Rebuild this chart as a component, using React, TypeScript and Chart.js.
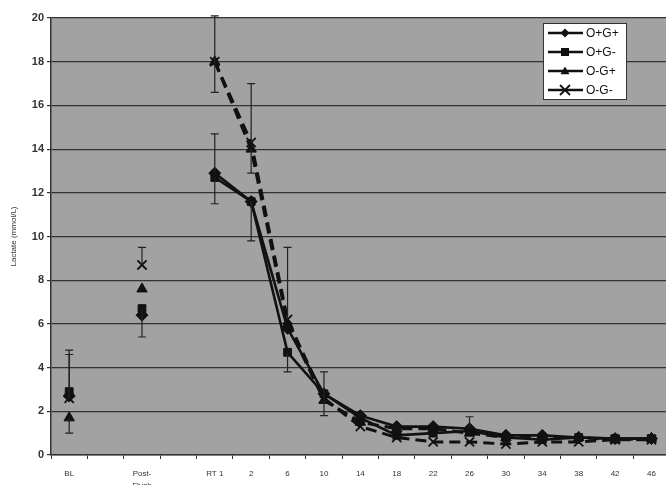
import React, { useEffect, useRef } from "react";
import { Chart, registerables } from "chart.js";
Chart.register(...registerables);

const categories: (string | string[])[] = ["BL", "", ["Post-", "Flush"], "", "RT 1", "2", "6", "10", "14", "18", "22", "26", "30", "34", "38", "42", "46"];
const seriesNames = ["O+G+", "O+G-", "O-G+", "O-G-"];

const oPgP = [2.7, null, 6.4, null, 12.9, 11.6, 5.8, 2.8, 1.8, 1.3, 1.3, 1.2, 0.9, 0.9, 0.8, 0.75, 0.75];
const oPgM = [2.9, null, 6.7, null, 12.7, 11.6, 4.7, 2.8, 1.7, 0.9, 1.0, 1.1, 0.8, 0.7, 0.8, 0.75, 0.75];
const oMgP = [1.7, null, 7.6, null, 18.0, 14.0, 6.0, 2.5, 1.5, 1.2, 1.2, 1.0, 0.8, 0.8, 0.8, 0.7, 0.75];
const oMgM = [2.6, null, 8.7, null, 18.0, 14.3, 6.2, 2.6, 1.3, 0.8, 0.6, 0.6, 0.5, 0.6, 0.6, 0.7, 0.7];

// one-sided error bars (Excel style)
const oPgPPlus = [null, null, null, null, 1.8, null, null, 1.0, null, null, null, 0.55, null, null, null, null, null];
const oPgPMinus = [null, null, null, null, null, 1.8, null, null, null, null, null, null, null, null, null, null, null];
const oPgMPlus = [1.9, null, null, null, null, null, null, null, null, null, null, null, null, null, null, null, null];
const oPgMMinus = [null, null, 1.3, null, 1.2, null, 0.9, 1.0, null, null, null, null, null, null, null, null, null];
const oMgPPlus = [null, null, null, null, null, null, null, null, null, null, null, null, null, null, null, null, null];
const oMgPMinus = [0.7, null, null, null, 1.4, 1.1, null, null, null, null, null, null, null, null, null, null, null];
const oMgMPlus = [2.0, null, 0.8, null, 2.1, 2.7, 3.3, null, null, null, null, null, null, null, null, null, null];
const oMgMMinus = [null, null, null, null, null, null, null, null, null, null, null, null, null, null, null, null, null];

const yTicks = { min: 0, max: 20, step: 2 };

const seriesData = [oPgP, oPgM, oMgP, oMgM];
const plusErr = [oPgPPlus, oPgMPlus, oMgPPlus, oMgMPlus];
const minusErr = [oPgPMinus, oPgMMinus, oMgPMinus, oMgMMinus];
const markers = ["rectRot", "rect", "triangle", "crossRot"];
const radii = [6, 5.5, 6, 6.5];
const dashes = [[], [], [11, 6], [11, 6]];

const FONT = "Arial, 'Liberation Sans', sans-serif";

export default function App() {
  const ref = useRef<HTMLCanvasElement>(null);
  useEffect(() => {
    const ctx = ref.current!.getContext("2d")!;
    const bgPlugin = {
      id: "bg",
      beforeDraw(chart: any) {
        const { ctx, chartArea: a } = chart;
        ctx.save();
        ctx.fillStyle = "#ffffff";
        ctx.fillRect(0, 0, chart.width, chart.height);
        ctx.fillStyle = "#a2a2a2";
        ctx.fillRect(a.left, a.top, a.right - a.left, a.bottom - a.top);
        ctx.restore();
      },
    };
    const errPlugin = {
      id: "err",
      afterDatasetsDraw(chart: any) {
        const { ctx } = chart;
        const ys = chart.scales.y;
        ctx.save();
        ctx.strokeStyle = "#222";
        ctx.lineWidth = 1.2;
        seriesData.forEach((d, i) => {
          const meta = chart.getDatasetMeta(i);
          d.forEach((v, j) => {
            if (v == null) return;
            const x = meta.data[j].x;
            const y0 = ys.getPixelForValue(v);
            const draw = (e: number | null, s: number) => {
              if (e == null) return;
              const y1 = ys.getPixelForValue(v + s * e);
              ctx.beginPath();
              ctx.moveTo(x, y0);
              ctx.lineTo(x, y1);
              ctx.moveTo(x - 4, y1);
              ctx.lineTo(x + 4, y1);
              ctx.stroke();
            };
            draw(plusErr[i][j], 1);
            draw(minusErr[i][j], -1);
          });
        });
        ctx.restore();
      },
    };
    const legendPlugin = {
      id: "customLegend",
      afterDraw(chart: any) {
        const { ctx } = chart;
        ctx.save();
        ctx.fillStyle = "#ffffff";
        ctx.fillRect(543, 23, 83, 76);
        ctx.strokeStyle = "#333";
        ctx.lineWidth = 1;
        ctx.strokeRect(543.5, 23.5, 83, 76);
        seriesNames.forEach((name, i) => {
          const y = 33 + i * 19;
          ctx.strokeStyle = "#111";
          ctx.lineWidth = 2.5;
          ctx.setLineDash([]);
          ctx.beginPath();
          ctx.moveTo(548, y);
          ctx.lineTo(583, y);
          ctx.stroke();
          ctx.fillStyle = "#111";
          ctx.font = "12px " + FONT;
          ctx.textBaseline = "middle";
          ctx.fillText(name, 586, y + 1);
          const m = markers[i];
          const r = radii[i] - 1.5;
          const cxp = 565;
          ctx.lineWidth = i === 3 ? 1.8 : 1;
          ctx.beginPath();
          if (m === "rectRot") {
            ctx.moveTo(cxp, y - r); ctx.lineTo(cxp + r, y); ctx.lineTo(cxp, y + r); ctx.lineTo(cxp - r, y); ctx.closePath(); ctx.fill();
          } else if (m === "rect") {
            ctx.rect(cxp - r, y - r, 2 * r, 2 * r); ctx.fill();
          } else if (m === "triangle") {
            ctx.moveTo(cxp, y - r); ctx.lineTo(cxp + r, y + r * 0.7); ctx.lineTo(cxp - r, y + r * 0.7); ctx.closePath(); ctx.fill();
          } else {
            ctx.moveTo(cxp - r, y - r); ctx.lineTo(cxp + r, y + r); ctx.moveTo(cxp + r, y - r); ctx.lineTo(cxp - r, y + r); ctx.stroke();
          }
        });
        ctx.restore();
      },
    };
    const chart = new Chart(ctx, {
      type: "line",
      data: {
        labels: categories as any,
        datasets: seriesData.map((d, i) => ({
          label: seriesNames[i],
          data: d as any,
          borderColor: "#111",
          backgroundColor: "#111",
          borderWidth: i >= 2 ? 3 : 2.6,
          borderDash: dashes[i],
          pointStyle: markers[i] as any,
          pointRadius: radii[i],
          pointBorderWidth: i === 3 ? 1.8 : 1,
          pointBorderColor: "#111",
          pointBackgroundColor: "#111",
          tension: 0,
          spanGaps: false,
          fill: false,
        })),
      },
      options: {
        responsive: false,
        animation: false,
        layout: { padding: { top: 18, right: 0, left: 0, bottom: 0 } },
        plugins: {
          legend: { display: false },
          tooltip: { enabled: false },
        },
        scales: {
          x: {
            offset: true,
            afterFit(s: any) { s.height = 30; },
            grid: { offset: true, drawOnChartArea: false, drawTicks: true, tickLength: 4, color: "#333", lineWidth: 1 },
            border: { display: true, color: "#333", width: 1.5 },
            ticks: {
              color: "#333",
              font: { family: FONT, size: 8, lineHeight: 1.6 },
              padding: 8,
              maxRotation: 0,
              autoSkip: false,
            },
          },
          y: {
            min: yTicks.min,
            max: yTicks.max,
            afterFit(s: any) { s.width = 51; },
            grid: { color: "#333", lineWidth: 1.2, drawTicks: true, tickLength: 4 },
            border: { display: true, color: "#333", width: 1.5 },
            ticks: {
              stepSize: yTicks.step,
              color: "#333",
              padding: 3,
              font: { family: FONT, size: 11, weight: "bold" },
            },
            title: {
              display: true,
              text: "Lactate (mmol/L)",
              color: "#333",
              padding: { top: 9, bottom: 0 },
              font: { family: FONT, size: 8 },
            },
          },
        },
      },
      plugins: [bgPlugin, errPlugin, legendPlugin],
    });
    return () => chart.destroy();
  }, []);
  return (
    <div style={{ position: "absolute", left: 0, top: 0, width: 666, height: 485, overflow: "hidden" }}>
      <canvas ref={ref} width={678} height={485} style={{ display: "block" }} />
    </div>
  );
}
